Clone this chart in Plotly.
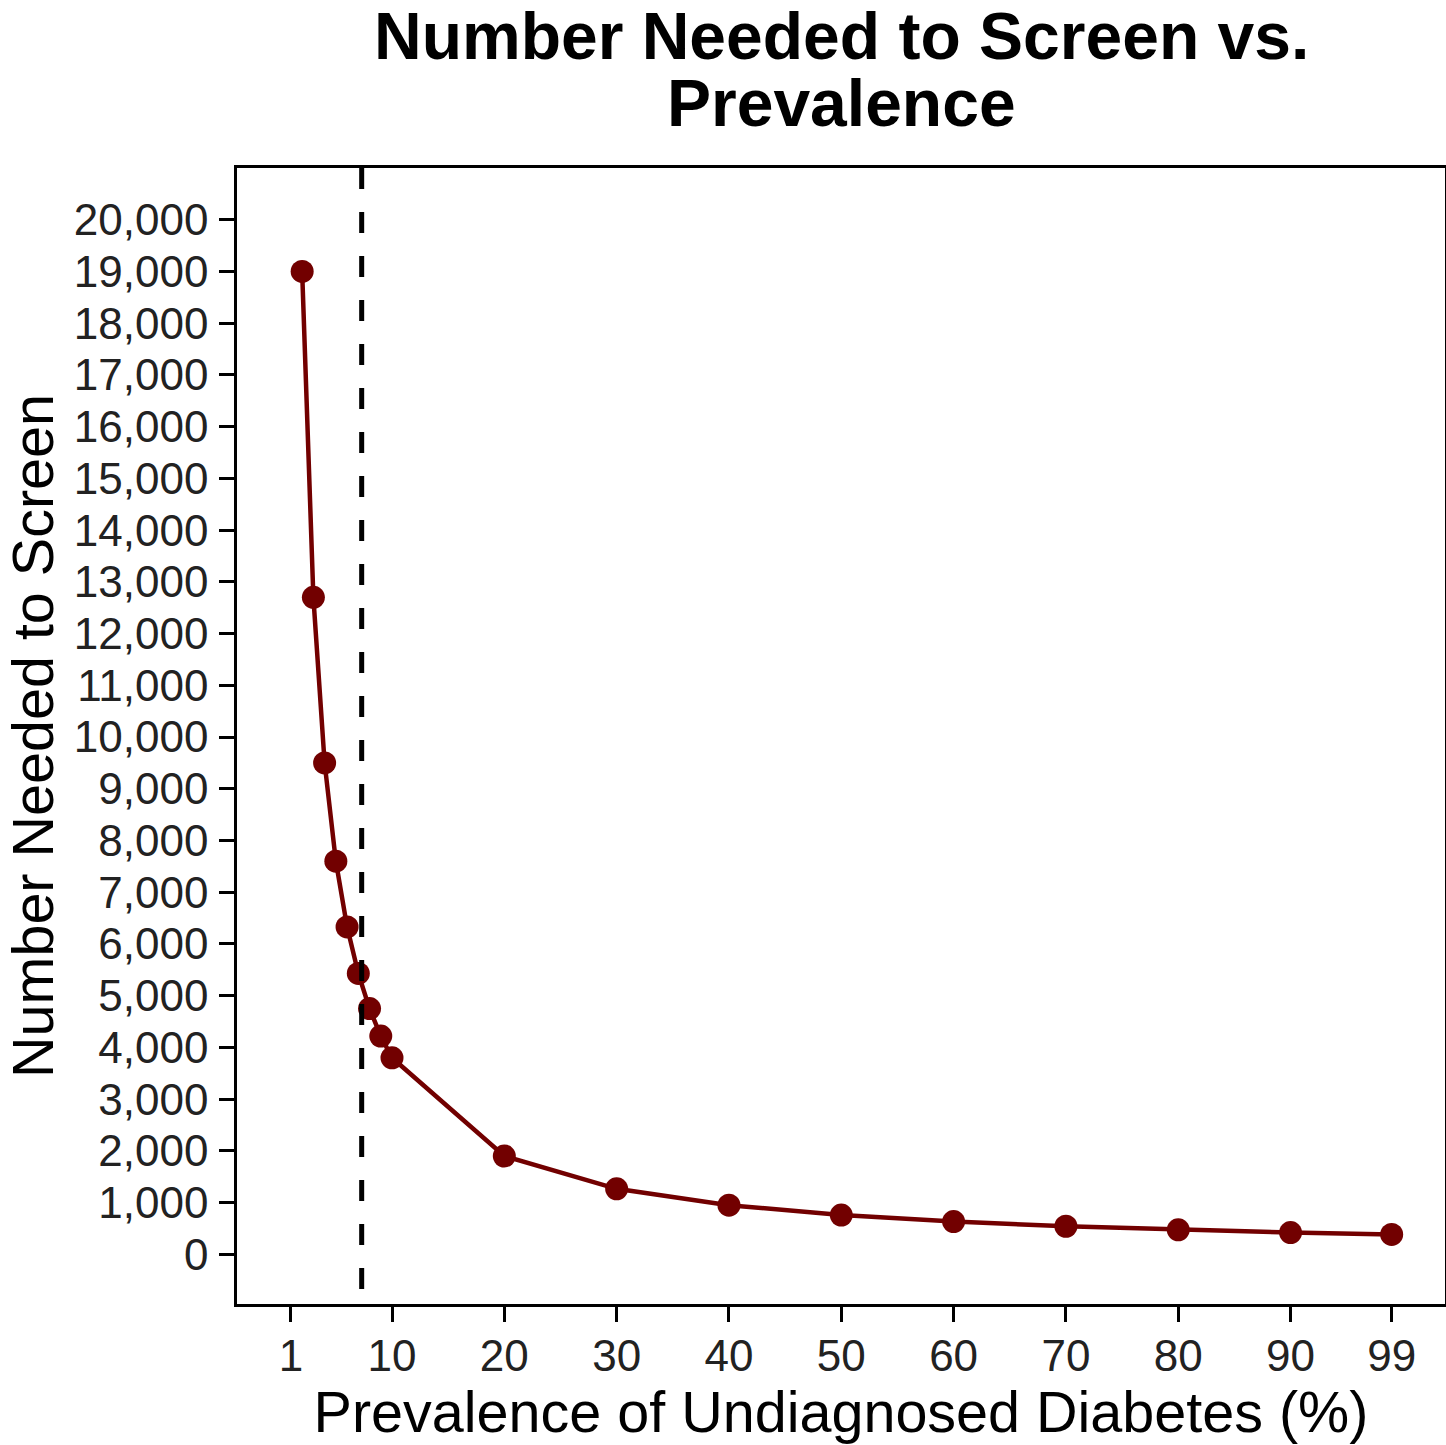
import plotly.graph_objects as go

prevalence = [2, 3, 4, 5, 6, 7, 8, 9, 10, 20, 30, 40, 50, 60, 70, 80, 90, 99]
nns = [19000, 12700, 9500, 7600, 6330, 5430, 4750, 4220, 3800,
       1900, 1267, 950, 760, 633, 543, 475, 422, 384]
x_tick_vals = [1, 10, 20, 30, 40, 50, 60, 70, 80, 90, 99]
y_tick_vals = list(range(0, 20001, 1000))
reference_prevalence = 7.3
title_lines = ["Number Needed to Screen vs.", "Prevalence"]

RED = "#720000"
SANS = "Liberation Sans, Arial, Helvetica, sans-serif"

fig = go.Figure()
fig.add_trace(go.Scatter(
    x=prevalence, y=nns, mode="lines+markers",
    line=dict(color=RED, width=4.5),
    marker=dict(color=RED, size=23),
    showlegend=False,
))

fig.add_shape(type="line", xref="x", yref="paper",
              x0=reference_prevalence, x1=reference_prevalence, y0=1, y1=0,
              line=dict(color="black", width=5, dash="21px,23px"), layer="above")

# two-line bold title, each line placed separately for tight line spacing
for line_text, shift in zip(title_lines, [132, 65]):
    fig.add_annotation(
        text=line_text, xref="paper", yref="paper", x=0.5, y=1,
        xanchor="center", yanchor="middle", yshift=shift, showarrow=False,
        font=dict(family=SANS, size=66, color="black", weight="bold"),
    )

axis_font = dict(family=SANS, size=44, color="#222222")
title_font = dict(family=SANS, size=57.5, color="black")

fig.update_layout(
    width=1446, height=1445,
    paper_bgcolor="white", plot_bgcolor="white",
    margin=dict(l=237, r=1, t=168, b=141, autoexpand=False),
    xaxis=dict(
        range=[-3.8, 103.75], tickvals=x_tick_vals, ticktext=[str(v) for v in x_tick_vals],
        showgrid=False, zeroline=False, showline=True, mirror=True,
        linecolor="black", linewidth=2.5,
        ticks="outside", ticklen=15, tickwidth=2.5, tickcolor="black",
        tickfont=axis_font, ticklabelstandoff=-4,
        title=dict(text="Prevalence of Undiagnosed Diabetes (%)", font=title_font, standoff=12),
    ),
    yaxis=dict(
        range=[-960, 21000], tickvals=y_tick_vals, tickformat=",d",
        showgrid=False, zeroline=False, showline=True, mirror=True,
        linecolor="black", linewidth=2.5,
        ticks="outside", ticklen=15, tickwidth=2.5, tickcolor="black",
        tickfont=axis_font, ticklabelstandoff=2,
        title=dict(text="Number Needed to Screen", font=title_font, standoff=2),
    ),
)

fig.write_html("out.html", config={"displayModeBar": False},
               post_script="document.body.style.margin='0';")
